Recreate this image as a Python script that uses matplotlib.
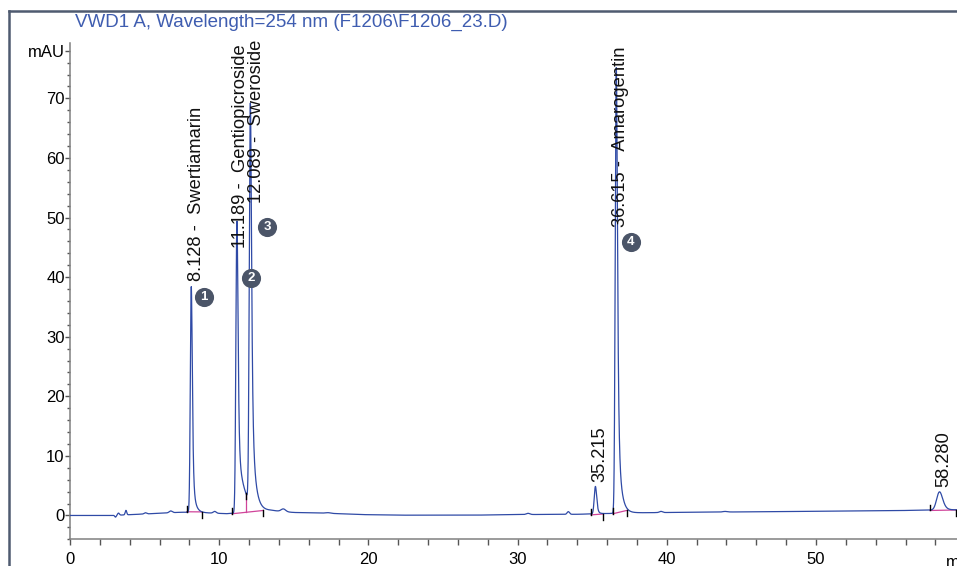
import numpy as np
import matplotlib
matplotlib.use("Agg")
import matplotlib.pyplot as plt
from matplotlib.lines import Line2D

# ---------------- data ----------------
title = "VWD1 A, Wavelength=254 nm (F1206\\F1206_23.D)"

peak_rt = [8.128, 11.189, 12.089, 35.215, 36.615, 58.280]
peak_name = ["Swertiamarin", "Gentiopicroside", "Sweroside", "", "Amarogentin", ""]
peak_height = [37.9, 49.0, 67.0, 4.6, 74.8, 3.05]       # mAU above drift
peak_sigma = [0.055, 0.06, 0.06, 0.07, 0.06, 0.17]
peak_tau = [0.05, 0.05, 0.06, 0.05, 0.06, 0.15]
peak_tail_frac = [0.15, 0.2, 0.25, 0.1, 0.2, 0.0]
peak_tail_tau = [0.18, 0.45, 0.22, 0.15, 0.22, 0.3]
peak_number = [1, 2, 3, None, 4, None]

# small baseline features (rt, height, sigma)
bump_rt = [3.05, 3.25, 3.75, 5.05, 6.75, 9.7, 14.3, 17.3, 30.7, 33.4, 39.6, 43.9]
bump_h = [-0.3, 0.35, 0.75, 0.2, 0.3, 0.3, 0.45, 0.1, 0.2, 0.45, 0.2, 0.1]
bump_sigma = [0.05, 0.06, 0.05, 0.08, 0.1, 0.1, 0.15, 0.15, 0.12, 0.08, 0.1, 0.15]

# detector drift
drift_t = [0, 3, 5, 7.5, 9, 10.5, 13.5, 15, 17, 19.5, 22, 27, 30, 34, 38, 40, 45, 50, 55, 57.5, 59.5]
drift_y = [0, 0.02, 0.25, 0.55, 0.45, 0.3, 0.8, 0.5, 0.4, 0.15, 0.05, 0.05, 0.15, 0.2, 0.45, 0.5,
           0.6, 0.7, 0.8, 0.9, 0.95]

# integration events: (start, end) and baseline values there
int_start = [7.82, 10.84, 34.92, 36.37, 57.64]
int_end = [8.83, 12.96, 35.74, 37.31, 59.38]
int_y0 = [0.62, 0.28, 0.10, 0.28, 0.84]
int_y1 = [0.60, 0.84, 0.25, 0.84, 0.92]
split_t = [11.78]

x_major = [0, 10, 20, 30, 40, 50]
y_major = [0, 10, 20, 30, 40, 50, 60, 70]

# ---------------- build trace ----------------
dt = 0.002
t = np.arange(0, 59.5, dt)


def emg(sigma, tau):
    x = np.arange(-6 * sigma, 6 * sigma + 10 * tau, dt)
    g = np.exp(-x ** 2 / (2 * sigma ** 2))
    k = np.exp(-np.arange(0, 10 * tau, dt) / tau)
    c = np.convolve(g, k)[:len(x)]
    return x, c / c.max()


y = np.interp(t, drift_t, drift_y)
for rt, h, s, ta, a, ta2 in zip(peak_rt, peak_height, peak_sigma, peak_tau,
                                peak_tail_frac, peak_tail_tau):
    x1, c1 = emg(s, ta)
    shape = (1 - a) * c1
    if a > 0:
        x2, c2 = emg(s, ta2)
        shape = shape + a * np.interp(x1, x2, c2, left=0, right=0)
        ext = x2 > x1[-1]
        x1 = np.concatenate([x1, x2[ext]])
        shape = np.concatenate([shape, a * c2[ext]])
    shape = shape / shape.max()
    x0 = x1[np.argmax(shape)]
    y += h * np.interp(t, x1 - x0 + rt, shape, left=0, right=0)

for rt, h, s in zip(bump_rt, bump_h, bump_sigma):
    y += h * np.exp(-(t - rt) ** 2 / (2 * s ** 2))

# ---------------- figure ----------------
plt.rcParams['font.family'] = ['Liberation Sans', 'DejaVu Sans']
fig = plt.figure(figsize=(9.57, 5.66), dpi=100)
ax = fig.add_axes([70 / 957, (566 - 539.3) / 566, 1 - 70 / 957, (539.3 - 43) / 566])
ax.set_xlim(0, 59.45)
ax.set_ylim(-4.0, 79.3)

trace_c = "#2f4aa6"
ax.plot(t, y, color=trace_c, lw=0.9, zorder=3)

pink = "#d0449a"
for s0, s1, b0, b1 in zip(int_start, int_end, int_y0, int_y1):
    ax.plot([s0, s1], [b0, b1], color=pink, lw=0.9, zorder=2)
    ax.plot([s0, s0], [b0, b0 + 1.0], color="black", lw=1.0, zorder=4)
    ax.plot([s1, s1], [b1, b1 - 1.0], color="black", lw=1.0, zorder=4)
for st in split_t:
    i = 1
    bl = np.interp(st, [int_start[i], int_end[i]], [int_y0[i], int_y1[i]])
    yv = float(np.interp(st, t, y))
    ax.plot([st, st], [bl, yv], color=pink, lw=0.9, zorder=2)
    ax.plot([st, st], [yv, yv - 1.0], color="black", lw=1.0, zorder=4)

# peak labels (layout)
label_pos = [(8.48, 39.3), (11.43, 44.9), (12.47, 52.4), (35.49, 5.6), (36.9, 48.4), (58.58, 4.8)]
for rt, nm, (lx, ly) in zip(peak_rt, peak_name, label_pos):
    txt = f"{rt:.3f}" + (f" -  {nm}" if nm else "")
    ax.text(lx, ly, txt, rotation=90, ha="center", va="bottom", fontsize=13.2,
            color="#111111", zorder=5)

# numbered circles (layout)
circle_pos = [(8.98, 36.7), (12.13, 39.8), (13.2, 48.4), None, (37.6, 45.9), None]
for num, pos in zip(peak_number, circle_pos):
    if num is None:
        continue
    ax.scatter([pos[0]], [pos[1]], s=190, color="#4b5568", zorder=6, linewidths=0)
    ax.text(pos[0], pos[1], str(num), ha="center", va="center", color="white",
            fontsize=9.5, fontweight="bold", zorder=7)

# axes styling
for sp in ["top", "right"]:
    ax.spines[sp].set_visible(False)
for sp in ["left", "bottom"]:
    ax.spines[sp].set_color("#808080")
    ax.spines[sp].set_linewidth(1.1)

ax.set_xticks(x_major)
ax.set_xticks(np.arange(0, 60, 2), minor=True)
ax.set_yticks(y_major + [78])
ax.set_yticklabels([str(v) for v in y_major] + ["mAU"])
ax.set_yticks(np.arange(-4, 79, 2), minor=True)
ax.tick_params(axis="x", which="both", direction="out", length=4.3, width=1.0,
               color="#555555", labelsize=12, pad=4.5)
ax.tick_params(axis="y", which="major", direction="out", length=3.5, width=1.0,
               color="#555555", labelsize=12, pad=0.3)
ax.tick_params(axis="y", which="minor", direction="out", length=2.2, width=1.0,
               color="#555555")
ax.text(58.7, -6.6, "min", ha="left", va="top", fontsize=12, clip_on=False)

fig.text(75 / 957, 1 - 22 / 566, title, color="#3f5db0", fontsize=13.5,
         ha="left", va="center")

# outer frame (top and left border)
fig.add_artist(Line2D([9 / 957, 9 / 957], [0, 1 - 10.5 / 566], transform=fig.transFigure,
                      color="#4f5b70", lw=1.8))
fig.add_artist(Line2D([9 / 957, 1], [1 - 10.5 / 566, 1 - 10.5 / 566], transform=fig.transFigure,
                      color="#4f5b70", lw=1.8))

fig.savefig("out.png", dpi=100)
